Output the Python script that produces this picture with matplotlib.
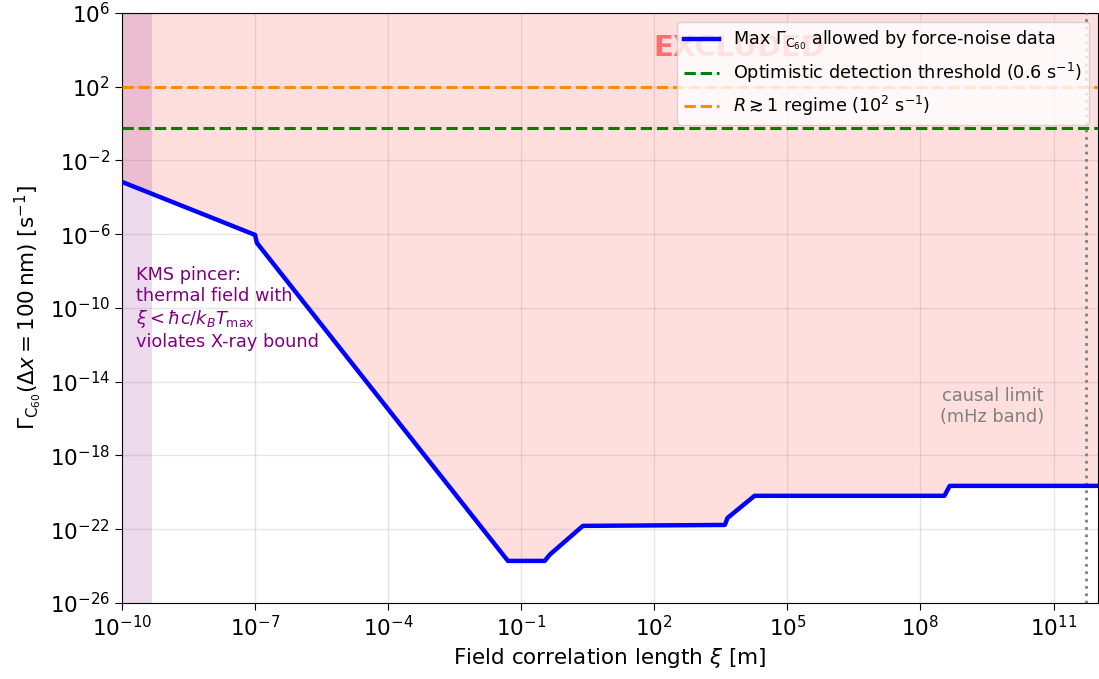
import numpy as np
import matplotlib
matplotlib.use("Agg")
import matplotlib.pyplot as plt
from matplotlib.ticker import FixedLocator, NullLocator, LogFormatterMathtext

# Data (log10 values)
xi_log = [-10.0, -7.0, -6.96, -1.30, -0.47, -0.36, 0.39, 3.59, 3.65, 4.26, 8.54, 8.66, 12.0]
gamma_log = [-3.165, -6.04, -6.47, -23.72, -23.72, -23.39, -21.82, -21.77, -21.39, -20.19, -20.19, -19.65, -19.65]
threshold_optimistic = 0.6
threshold_regime = 1e2
kms_xi_max = 4.8e-10
causal_xi = 5.3e11
x_ticks_log = [-10, -7, -4, -1, 2, 5, 8, 11]
y_ticks_log = [6, 2, -2, -6, -10, -14, -18, -22, -26]

xi = 10.0 ** np.array(xi_log)
gamma = 10.0 ** np.array(gamma_log)

fig = plt.figure(figsize=(10.99, 6.79), dpi=100)
ax = fig.add_subplot(111)
fig.subplots_adjust(left=0.111, right=0.999, bottom=0.112, top=0.981)

ax.set_xscale('log')
ax.set_yscale('log')

ax.fill_between(xi, gamma, 1e6, color='red', alpha=0.13, lw=0, zorder=1)
ax.axvspan(1e-10, kms_xi_max, color='purple', alpha=0.15, lw=0, zorder=1.5)

ax.plot(xi, gamma, color='blue', lw=3.2, zorder=4,
        label=r'Max $\Gamma_{\mathrm{C}_{60}}$ allowed by force-noise data')
ax.axhline(threshold_optimistic, color='green', ls='--', lw=2.2, zorder=3,
           label=r'Optimistic detection threshold (0.6 s$^{-1}$)')
ax.axhline(threshold_regime, color='darkorange', ls='--', lw=2.2, zorder=3,
           label=r'$R \gtrsim 1$ regime (10$^2$ s$^{-1}$)')
ax.axvline(causal_xi, color='gray', ls=':', lw=2, zorder=3)

ax.text(0.633, 0.94, 'EXCLUDED', transform=ax.transAxes, color='red', alpha=0.5,
        fontsize=21, fontweight='bold', ha='center', va='center', zorder=2)
ax.text(0.014, 0.571, 'KMS pincer:\nthermal field with\n'
        r'$\xi < \hbar c / k_B T_{\max}$' '\nviolates X-ray bound',
        transform=ax.transAxes, color='purple', fontsize=12.75, ha='left', va='top',
        linespacing=1.2, zorder=5)
ax.text(10 ** 10.8, 10 ** -14.3, 'causal limit\n(mHz band)', color='gray',
        fontsize=12.75, ha='right', va='top', multialignment='center', zorder=5)

ax.set_xlim(1e-10, 1e12)
ax.set_ylim(1e-26, 1e6)
ax.xaxis.set_major_locator(FixedLocator([10.0 ** k for k in x_ticks_log]))
ax.yaxis.set_major_locator(FixedLocator([10.0 ** k for k in y_ticks_log]))
ax.xaxis.set_major_formatter(LogFormatterMathtext())
ax.yaxis.set_major_formatter(LogFormatterMathtext())
ax.xaxis.set_minor_locator(NullLocator())
ax.yaxis.set_minor_locator(NullLocator())
ax.tick_params(labelsize=15.5, length=5)
ax.grid(True, color='gray', alpha=0.2, lw=1)

ax.set_xlabel(r'Field correlation length $\xi$ [m]', fontsize=15.5)
ax.set_ylabel(r'$\Gamma_{\mathrm{C}_{60}}(\Delta x = 100\,\mathrm{nm})$ [s$^{-1}$]', fontsize=15.5)

leg = ax.legend(loc='upper right', fontsize=12.7, framealpha=0.8)
leg.set_zorder(10)

fig.savefig('out.png', dpi=100)
